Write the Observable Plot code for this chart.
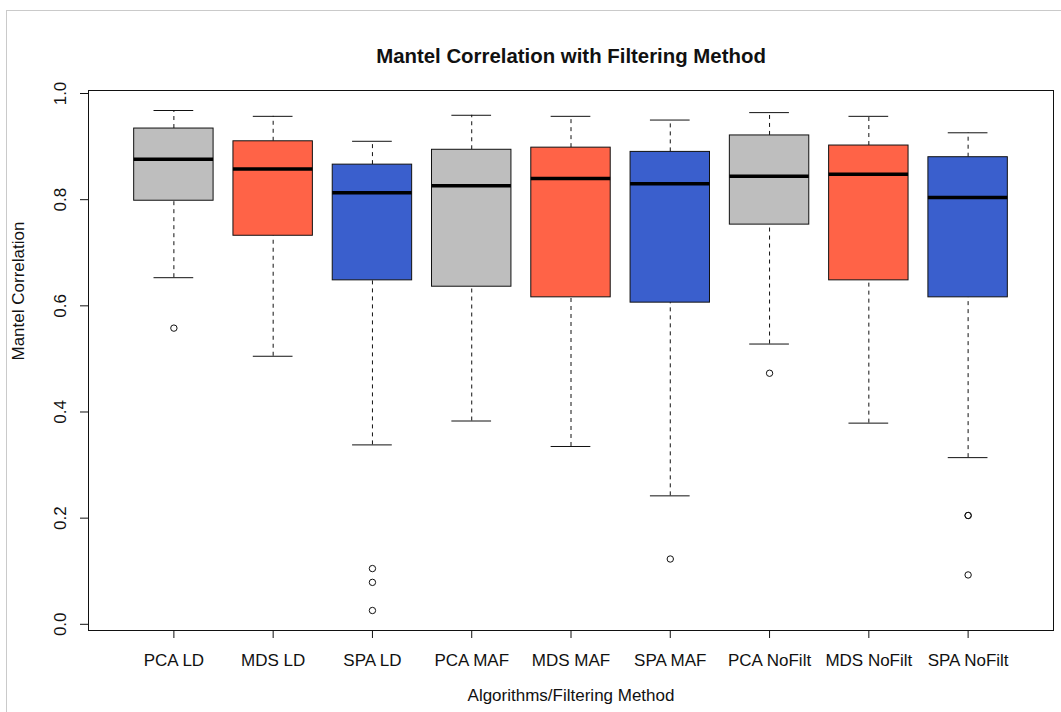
<!DOCTYPE html>
<html>
<head>
<meta charset="utf-8">
<script src="https://cdn.jsdelivr.net/npm/d3@7"></script>
<script src="https://cdn.jsdelivr.net/npm/@observablehq/plot@0.6"></script>
<style>
  html, body { margin: 0; padding: 0; background: #fff; overflow: hidden; }
  #wrap { position: relative; width: 1061px; height: 712px; }
  #edge { position: absolute; left: 6px; top: 10px; width: 1100px; height: 800px;
          border-top: 1px solid #cacaca; border-left: 1px solid #cacaca; pointer-events: none; }
</style>
</head>
<body>
<div id="wrap"><div id="chart"></div><div id="edge"></div></div>
<script>
// Box-plot summaries of Mantel correlation per algorithm / filtering method
const methods = ["PCA LD", "MDS LD", "SPA LD", "PCA MAF", "MDS MAF", "SPA MAF", "PCA NoFilt", "MDS NoFilt", "SPA NoFilt"];
const algorithms = ["PCA", "MDS", "SPA", "PCA", "MDS", "SPA", "PCA", "MDS", "SPA"];
const whiskerLow  = [0.653, 0.505, 0.338, 0.383, 0.335, 0.242, 0.528, 0.379, 0.314];
const quartile1   = [0.798, 0.732, 0.648, 0.636, 0.616, 0.606, 0.753, 0.648, 0.616];
const medians     = [0.876, 0.858, 0.813, 0.826, 0.840, 0.830, 0.844, 0.848, 0.804];
const quartile3   = [0.934, 0.910, 0.866, 0.894, 0.898, 0.890, 0.921, 0.902, 0.880];
const whiskerHigh = [0.968, 0.957, 0.910, 0.959, 0.957, 0.950, 0.964, 0.957, 0.926];

// Points beyond the whiskers
const outlierMethod = ["PCA LD", "SPA LD", "SPA LD", "SPA LD", "SPA MAF", "PCA NoFilt", "SPA NoFilt", "SPA NoFilt", "SPA NoFilt"];
const outlierValue  = [0.558, 0.105, 0.079, 0.026, 0.123, 0.473, 0.205, 0.205, 0.093];

const yTicks = [0, 0.2, 0.4, 0.6, 0.8, 1.0];

const boxes = methods.map((m, i) => ({
  method: m, pos: i + 1, algo: algorithms[i],
  lo: whiskerLow[i], q1: quartile1[i], med: medians[i], q3: quartile3[i], hi: whiskerHigh[i]
}));
const outliers = outlierMethod.map((m, k) => ({pos: methods.indexOf(m) + 1, value: outlierValue[k]}));

// Axis ranges padded by 4% on each side, like base R graphics
const allValues = [...whiskerLow, ...whiskerHigh, ...outlierValue];
const vMin = d3.min(allValues), vMax = d3.max(allValues), span = vMax - vMin;
const yDomain = [vMin - 0.04 * span, vMax + 0.04 * span];
const xLo = 0.5, xHi = methods.length + 0.5, xPad = 0.04 * (xHi - xLo);
const xDomain = [xLo - xPad, xHi + xPad];

const boxHalf = 0.4, capHalf = 0.2;
const ink = "#111";

const chart = Plot.plot({
  width: 1061,
  height: 712,
  marginLeft: 88,
  marginRight: 8,
  marginTop: 90,
  marginBottom: 82,
  x: {type: "linear", domain: xDomain, axis: null},
  y: {domain: yDomain, axis: null},
  color: {domain: ["PCA", "MDS", "SPA"], range: ["#BEBEBE", "#FF6347", "#3A5FCD"]},
  style: {fontFamily: "'Liberation Sans', Arial, sans-serif", fontSize: "17px", color: ink, background: "#fff"},
  marks: [
    // dashed whiskers
    Plot.ruleX(boxes, {x: "pos", y1: "q3", y2: "hi", stroke: ink, strokeDasharray: "4,4"}),
    Plot.ruleX(boxes, {x: "pos", y1: "lo", y2: "q1", stroke: ink, strokeDasharray: "4,4"}),
    // whisker caps
    Plot.ruleY(boxes, {y: "hi", x1: d => d.pos - capHalf, x2: d => d.pos + capHalf, stroke: ink}),
    Plot.ruleY(boxes, {y: "lo", x1: d => d.pos - capHalf, x2: d => d.pos + capHalf, stroke: ink}),
    // interquartile boxes
    Plot.rect(boxes, {x1: d => d.pos - boxHalf, x2: d => d.pos + boxHalf, y1: "q1", y2: "q3", fill: "algo", stroke: ink, strokeWidth: 1}),
    // medians
    Plot.ruleY(boxes, {y: "med", x1: d => d.pos - boxHalf, x2: d => d.pos + boxHalf, stroke: "#000", strokeWidth: 3.5}),
    // outliers
    Plot.dot(outliers, {x: "pos", y: "value", r: 3.2, stroke: ink, fill: "none", strokeWidth: 1}),
    Plot.frame({stroke: ink}),
    Plot.axisX(methods.map((m, i) => i + 1), {
      tickFormat: i => methods[i - 1], tickSize: 8, tickPadding: 15, label: null, stroke: ink, fill: ink
    }),
    Plot.axisY(yTicks, {
      tickFormat: d3.format(".1f"), tickSize: 8, tickPadding: 15, tickRotate: -90, label: null, stroke: ink, fill: ink
    }),
    Plot.text(["Mantel Correlation with Filtering Method"], {
      text: d => d, frameAnchor: "top", dy: -42, fontWeight: "bold", fontSize: 20.4, fill: ink
    }),
    Plot.text(["Algorithms/Filtering Method"], {
      text: d => d, frameAnchor: "bottom", dy: 70, fontSize: 17, fill: ink
    }),
    Plot.text(["Mantel Correlation"], {
      text: d => d, frameAnchor: "left", dx: -70, rotate: -90, fontSize: 17, fill: ink
    })
  ]
});

document.getElementById("chart").appendChild(chart);
</script>
</body>
</html>
